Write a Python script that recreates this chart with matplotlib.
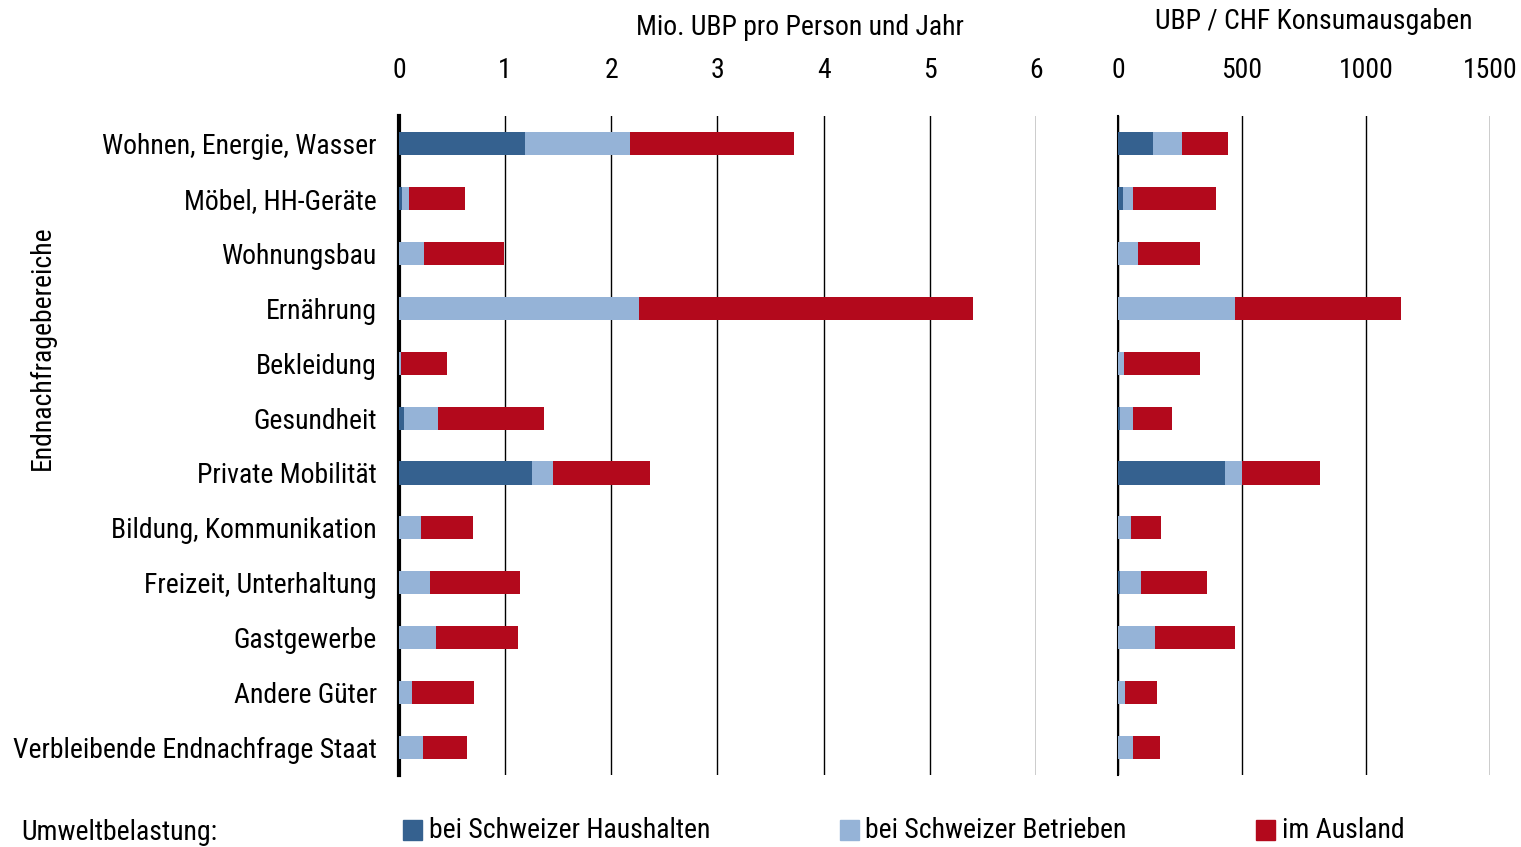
import matplotlib
matplotlib.use('Agg')
import matplotlib.pyplot as plt
import numpy as np

plt.rcParams['font.family'] = ['Roboto Condensed', 'Liberation Sans', 'DejaVu Sans']

categories = ['Wohnen, Energie, Wasser', 'Möbel, HH-Geräte', 'Wohnungsbau', 'Ernährung',
              'Bekleidung', 'Gesundheit', 'Private Mobilität', 'Bildung, Kommunikation',
              'Freizeit, Unterhaltung', 'Gastgewerbe', 'Andere Güter',
              'Verbleibende Endnachfrage Staat']

# Mio. UBP pro Person und Jahr
haushalte = [1.19, 0.025, 0.0, 0.0, 0.0, 0.05, 1.25, 0.0, 0.0, 0.0, 0.0, 0.0]
betriebe = [0.99, 0.065, 0.24, 2.26, 0.02, 0.32, 0.20, 0.205, 0.29, 0.345, 0.12, 0.23]
ausland = [1.54, 0.53, 0.745, 3.15, 0.43, 1.00, 0.91, 0.495, 0.85, 0.775, 0.59, 0.41]

# UBP / CHF Konsumausgaben
haushalte_chf = [140, 19, 0, 0, 0, 7, 430, 0, 7, 0, 0, 0]
betriebe_chf = [117, 40, 80, 474, 23, 52, 70, 51, 88, 148, 27, 59]
ausland_chf = [185, 335, 250, 666, 307, 157, 313, 121, 266, 322, 129, 109]

labels = ['bei Schweizer Haushalten', 'bei Schweizer Betrieben', 'im Ausland']
colors = ['#35618F', '#95B3D7', '#B3091C']

fig = plt.figure(figsize=(15.21, 8.47), dpi=100)
ax1 = fig.add_axes([0.2623, 0.085, 0.4188, 0.778])
ax2 = fig.add_axes([0.735, 0.085, 0.2446, 0.778])

y = np.arange(len(categories))
fs = 20


def stacked(ax, series):
    left = np.zeros(len(categories))
    for vals, c in zip(series, colors):
        ax.barh(y, vals, left=left, height=0.42, color=c, zorder=3)
        left += np.array(vals)


stacked(ax1, [haushalte, betriebe, ausland])
stacked(ax2, [haushalte_chf, betriebe_chf, ausland_chf])

for ax, xmax, ticks in [(ax1, 6, np.arange(0, 7)), (ax2, 1500, [0, 500, 1000, 1500])]:
    ax.set_xlim(0, xmax)
    ax.set_ylim(len(categories) - 0.5, -0.5)
    ax.set_xticks(ticks)
    ax.xaxis.tick_top()
    ax.tick_params(axis='x', length=0, labelsize=fs, pad=23)
    ax.grid(axis='x', color='black', linewidth=1.0, zorder=0)
    for s in ['top', 'right', 'bottom']:
        ax.spines[s].set_visible(False)

ax1.set_yticks(y)
ax1.set_yticklabels(categories, fontsize=fs)
ax1.tick_params(axis='y', length=0, pad=16)
ax1.spines['left'].set_linewidth(3)
ax2.set_yticks([])
ax2.spines['left'].set_linewidth(1.5)

fig.text(0.526, 0.968, 'Mio. UBP pro Person und Jahr', fontsize=fs, ha='center', va='center')
fig.text(0.864, 0.975, 'UBP / CHF Konsumausgaben', fontsize=fs, ha='center', va='center')
fig.text(0.028, 0.59, 'Endnachfragebereiche', fontsize=fs, rotation=90, ha='center', va='center')

# legend row
fig.text(0.014, 0.017, 'Umweltbelastung:', fontsize=fs, ha='left', va='center')
for xpos, lab, c in zip([0.265, 0.552, 0.826], labels, colors):
    fig.patches.append(plt.Rectangle((xpos, 0.008), 0.0125, 0.024, transform=fig.transFigure,
                                     color=c, figure=fig))
    fig.text(xpos + 0.017, 0.02, lab, fontsize=fs, ha='left', va='center')

fig.savefig('out.png', dpi=100)
